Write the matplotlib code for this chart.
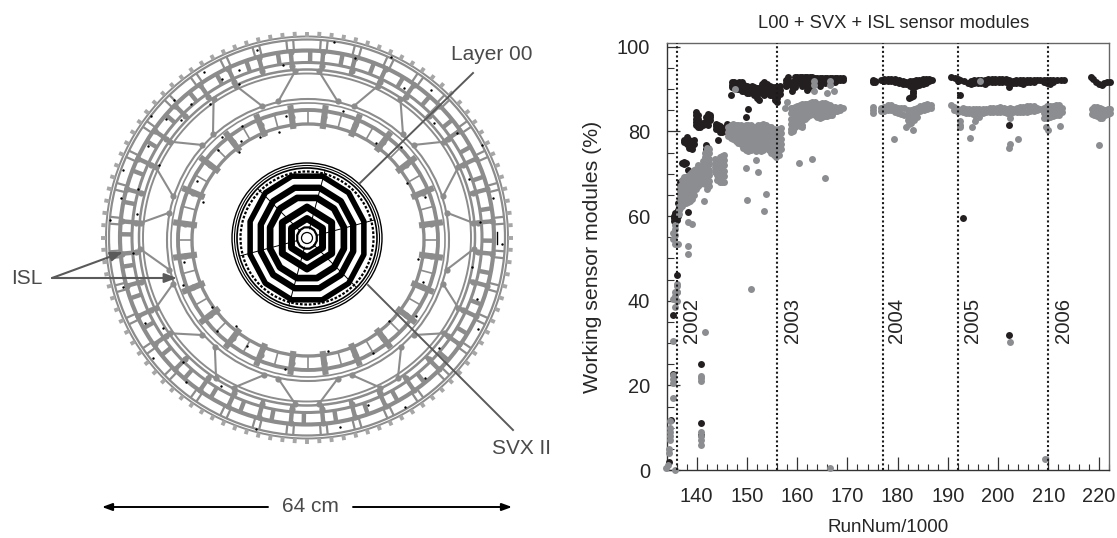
import numpy as np
import matplotlib
matplotlib.use("Agg")
import matplotlib.pyplot as plt
from matplotlib.collections import LineCollection
from matplotlib.patches import Circle, Polygon
from matplotlib.ticker import MultipleLocator

plt.rcParams['font.family'] = ['Liberation Sans', 'DejaVu Sans']

# ---------------- chart values: (RunNum/1000, [working modules %]) ----------------
black_2002 = [
 (134.5,[2]),(134.9,[11.7]),(135.2,[22.8]),(135.3,[36.7]),(136,[46]),
 (135.4,[58.8,59.5,60]),(135.7,[59,60,60.8]),(136,[59,60.2,61]),(136.2,[60,61.5,63]),(136.7,[68]),(137,[72.5]),(137.4,[72.8,72.3]),(137.8,[72.6]),
 (138.3,[71,61]),(137.5,[78,77.5]),(138,[78.7,77.8,77]),(138.5,[78,77,76]),(139,[77.5,76.6,75.8]),(139.5,[78,77]),
 (139.8,[84.7,83.8,83,82.2,81.5]),(140.2,[84,83,82,81]),(140.7,[82,81.3,81]),(141.3,[82,81.5]),(141.8,[83.5,82.5,81.8]),(142.3,[84.2,83.2,82.5,81.5]),
 (142.7,[84,83.5,82.8]),(141.9,[76.7,75.9]),(142.3,[76,75.4]),(140.8,[25,11,8.2]),
 (143.8,[81.8,81.2,80.6]),(144.3,[81.5,80.8]),(144.7,[81.4,80.5,79.8]),(145.1,[80.8,79.8]),(145.5,[80.8,80.2]),(146,[81.7,81,80.4]),(144.3,[78]),
 (146.9,[88.5]),(147,[91.8,91,90.4]),(147.5,[91.7,91,90.3]),(148,[91.5,90.8,90]),(148.5,[91.6,90.8,90]),(149,[91.8,91,90.2,89.5]),
 (149.5,[91,90.2,89.5]),(150,[90.8,90,89.2]),(150.5,[90.6,89.8,89]),(151,[90.8,90,89.4]),(151.5,[90.6,89.5,88.5]),(152,[90.2,89,88]),
 (152.5,[90.2,89,87.5]),(153,[91.2,90,89]),(153.5,[91.8,90.6,89.6,88.6]),(154,[91.2,90,89]),(154.5,[90.8,89.8,88.6]),(155,[90.6,89.6,88.5]),
 (155.5,[90.6,89.4,88.2,87.5]),(156,[90.2,89,88,87]),(156.5,[90.7,89.8,88.9]),(149.9,[83.5]),(150.3,[85.3]),
]
black_2003 = [
 (157.7,[92.2,91.5,90.8]),(158.2,[92.8,92,91.3]),(158.9,[91.8,90.8]),(159,[89.5]),(159.5,[92.8,92,91.2,90.5]),(160,[92.9,92.2,91.4]),(160.5,[92.9,92.2,91.6]),
 (161,[92.9,92.1,91.4,90.7]),(161.5,[92.9,92.1,91.2]),(162,[92.9,92.1,91.2,90.4,89.8]),(162.5,[92.9,92.1,91.3,90.5]),(163,[92.8,92,91.4]),(163.5,[92.7,92,91.4]),
 (164,[92.7,92,91.5]),(164.5,[92.7,91.9,90.8]),(165,[92.6,92,91.6]),(165.5,[92.6,92,91.5]),(166,[92.6,92,91.6]),(166.5,[92.6,92,91.3]),
 (167,[92.6,92,91.8]),(167.5,[92.6,92,91.8]),(168,[92.6,92.1]),(168.5,[92.6,92.1]),(169.2,[92.6,92.2]),
]
black_2004 = [
 (175.1,[92.1,91.7]),(175.4,[92,91.8]),(176.7,[92.1]),(177.2,[92.3,91.9]),(178,[92.4,91.9]),(178.7,[92.4,91.9]),(179.5,[92.3,91.7]),
 (180.2,[92.2,91.4]),(181,[92,91.3]),(181.7,[91.8,91.1]),(182.4,[92,91.4,90.8]),(183,[92,91.3,90.6,89.6,89]),(183.6,[92.1,91.4,90.8]),
 (184.3,[92.2,91.6,91]),(185,[92.3,91.8,91.3]),(185.6,[92.4,92,91.5]),(186.3,[92.4,91.9]),(186.9,[92.1]),(182.2,[88]),(183,[88.4]),(182.6,[88.2]),
]
black_2005 = [
 (190.7,[92.8]),(191.4,[92.7]),(192,[92.5,91.9]),(192.5,[92.1,88.6]),(193,[59.5]),(193.2,[91.9]),(193.9,[91.5]),(194.5,[91.9,91.2]),
 (195.2,[92.1,91.4]),(195.9,[92.2,91.5]),(196.6,[92.2,91.5]),(197.3,[92.2,91.2]),(198,[92.3,91.6]),(198.7,[92.3,91.6]),
 (199.4,[92.3,91.7]),(200.1,[92.3,91.7]),(200.8,[92.3,91.6]),(201.5,[92.3,91.6]),(202.2,[92.2,91.5,90.6,81.6,32]),
 (202.9,[92,91.4]),(203.6,[92.2,91.5]),(204.3,[92.2,91.4]),(205,[92.2,91.2]),(205.7,[92.2,91.6]),(206.4,[92.2,91.7]),
 (207.1,[92.2,91.8]),(207.8,[92.2]),(208.3,[92.2]),
]
black_2006 = [
 (209.2,[92.1,91.8]),(209.8,[92.2,91.5]),(210.3,[92.2,91.2]),(211,[92.2,91.8]),(211.7,[92.1]),(212.4,[92.1]),(213,[92.1]),
 (218.4,[92.8]),(218.9,[92.4]),(219.5,[91.7]),(220.1,[91.3]),(220.6,[91]),(221.1,[91.4]),(221.7,[91.8]),(222.3,[91.8]),
]
gray_2002 = [
 (134,[0.5]),(134.3,[1.2]),(134.5,[4,5]),(134.7,[7,8,9,10,11.5]),(135.2,[20.5,21.5,22.5,30.5]),(135.3,[17]),(135.6,[0.1]),
 (135.7,[38.5,41,42]),(136,[40,42,43.5,44]),(136.1,[42]),(135.3,[40.5,54.5,56]),(135.7,[55.5,53.5,57,58]),(136.3,[53.5]),
 (138.2,[51,52.9]),(138.3,[58.5]),(139.1,[58.1]),(140.8,[6,7,8,9,21,21.8,22.3]),(141.6,[32.6]),(141.5,[63.6]),(150.8,[42.7]),
 (136.4,[60.5,61.5,62.5]),(136.7,[62,63,64,65,66,67]),(137.1,[62.5,63.7,65,66.2,67.5,68.5]),(137.5,[63,64.2,65.5,66.8,68,69.2]),(137.9,[63,64.2,65.5,66.8,68,69.2]),
 (138.3,[63.3,64.5,65.8,67,68.3,69.5]),(138.7,[63.5,64.8,66,67.3,68.5,70]),(139.1,[64,65.3,66.6,67.9,69.2,70.3]),(139.5,[65,66.3,67.6,68.9,70.2,71]),
 (139.9,[66.5,67.8,69,70.2,71.2]),(140.3,[67,68.2,69.5,71,72]),(140.7,[67.5,68.8,70,71.2]),
 (141.2,[68,69.2,70.5,72,73]),(141.6,[67.5,68.8,70,71.3,72.6,73.9,75]),(142,[66.5,67.8,69,70.3,71.6,72.9,74.2,75.5,76.2]),(142.5,[67,68.3,69.6,70.9,72.2,73.5,74.8,75.8]),
 (143.7,[70.3,71.5,72.6,73.4]),(144.1,[68.5,69.8,71,72.2,73.3]),(144.6,[68,69.2,70.5,71.8,73,74]),(145,[68,69.3,70.6,72,73.2,74.3]),(145.5,[68,69.4,70.7,72,73.3,74.4]),
 (146.3,[81,79.8,79]),(146.8,[81.5,80.3,79.2,78.5]),(147.3,[81.8,80.6,79.4,78.2]),(147.7,[90]),(147.8,[81.5,80.3,79.1,77.8]),(148.3,[81.5,80.3,79,77.2]),
 (148.8,[81.5,80.3,79,77.8,77]),(149.3,[81.3,80.1,78.8,77.6,76.2]),(149.8,[81.5,80.2,79,77.7,76.5,75.5]),(150.3,[81.5,80.2,79,77.7,76.5,75.3]),
 (150.8,[81.5,80.2,79,77.7,76.5,75.5]),(151.3,[81,79.8,78.6,77.3,76.2]),(151.8,[81,79.8,78.6,77.3,76.2,75.3]),(152.3,[81.5,80.2,79,77.7,76.5,75.5]),(152.8,[81.5,80.2,79,77.7,76.5,75.3]),
 (153.3,[81.7,80.5,79.2,78,76.7,75.5]),(153.8,[81.5,80.3,79,77.8,76.8,76]),(154.3,[81,79.8,78.6,77.4,76.4,75.5]),(154.8,[81,79.8,78.5,77.2,76,75]),(155.3,[80.5,79.3,78,76.8,75.5,74.5]),
 (155.8,[80,78.8,77.5,76.2,75,74]),(156.3,[80.5,79.2,78,76.7,75.5,74.5]),(156.8,[80.8,79.6,78.3,77,75.8]),
 (149.9,[71.3]),(151.8,[73.3]),(152.3,[70.4]),(150.1,[63.8]),(153.7,[65.3]),(153.4,[61.3]),
]
gray_2003 = [
 (157.5,[85.5]),(157.9,[87]),(158.7,[85.5,84.3,83,81.8,80.6,79.8]),(159.1,[85.5,84.3,83,81.8,80.6,80]),(159.5,[85.8,84.6,83.4,82.2,81]),(160,[86,84.8,83.6,82.5]),
 (160.5,[86.3,85,83.8,82.6,81.4]),(161,[86.5,85.2,84,82.8,81.5,81]),(161.5,[86.6,85.4,84.2,83]),(162,[86.6,85.4,84.2,83.5]),(162.5,[86.8,85.6,84.4,84]),
 (163,[87,85.8,84.6,84.2]),(163.5,[87,85.8,84.6,84]),(164,[86.6,85.4,84.2,83.3]),(164.5,[86.4,85.2,84,83.2]),(165,[86.7,85.5,84.3,83.5]),(165.5,[86.8,85.6,84.4,83.6]),
 (166,[86.5,85.3,84.2,83.6]),(166.5,[86.2,85,83.8]),(167,[85.8,84.6,84]),(167.5,[85.8,84.8]),(168,[85.6,84.8]),(168.6,[85.7,85]),(169.2,[85.6]),
 (160.4,[72.6]),(163,[73.4]),(165.5,[69]),(163.3,[92]),(163.4,[89.6,91]),(166.5,[91.9,91]),(166,[89.2]),(167.3,[89.6]),(166.5,[0.5]),
]
gray_2004 = [
 (175.1,[85.8,85,84.3]),(176.7,[85.5,84.8]),(177.3,[85.8,84.8]),(178,[86.2,85]),(178.7,[86.2,85]),(179.4,[85.8,84.5]),(180,[85.5,84.3]),
 (180.7,[85.5,84.2]),(181.3,[85.5,84]),(182,[85,83.8,82.6]),(182.6,[85,83.5,82]),(183.2,[85.3,84,82.8]),(183.9,[85.6,84.5,83.5]),
 (184.5,[85.9,84.8]),(185.2,[86.2,85]),(185.9,[86.4,85.3]),(186.6,[86.3,85.5]),(181.6,[81]),(183,[80.4]),(182.2,[81.8]),(179.3,[78.2]),
]
gray_2005 = [
 (190.7,[86.3]),(191.3,[85.8,85]),(192,[85.3,84.5]),(192.5,[82.5,81.5,81]),(192.9,[85.5,84.5]),(193.5,[85.3,84.3]),(194.2,[85.4,84.3]),
 (194.9,[85.4,84.2]),(195.5,[85.4,84.2,83.5]),(196.2,[85.4,84.3,83.3]),(196.9,[85.3,84.4]),(197.6,[85.4,84.5]),(198.3,[85.5,84.6]),
 (199,[85.5,84.5]),(199.7,[85.6,84.6]),(200.4,[85.8,84.7]),(201.1,[85.6,84.6]),(201.8,[85.4,84.4]),(202.3,[85.5,84.2,83.2]),
 (203,[85.4,84.5]),(203.7,[85.5,84.6]),(204.4,[85.8,84.6]),(205,[85.8,84.6]),(205.7,[85.9,84.5]),(206.4,[86,84.9]),(207.1,[85.9,84.9]),
 (207.8,[85.6,85]),(208.3,[85.2]),(194.7,[81]),(195.3,[82.4]),(194.3,[78.5]),(196.3,[92]),(204,[78.2]),(202.4,[77]),(202.1,[76.2]),(202.3,[30.3]),
]
gray_2006 = [
 (209.1,[85.6,84.4,83.2]),(209.7,[85.9,84.6,83.2]),(210.3,[86,84.6,83.3]),(210.9,[86,84.8,83.7]),(211.5,[86.2,85,83.8]),(212.1,[86.2,85,84]),
 (212.6,[85.5,84.6]),(209.6,[81]),(210,[80.4]),(212.3,[81.2]),(209.4,[2.7]),
 (218.6,[85.3,84.2]),(219.1,[85.8,84.8,83.8]),(219.7,[85.8,84.6,83.6]),(220.2,[85.6,84.4,83.2]),(220.7,[85.3,84.2,83.2]),(221.2,[85,84]),
 (221.8,[85.2,84.2]),(222.3,[85.2,84.4]),(220,[76.8]),
]
year_lines = [136, 156, 177, 192, 210]
year_labels = ['2002', '2003', '2004', '2005', '2006']
year_label_x = [139.0, 159.1, 179.8, 194.8, 213.0]
x_ticks = [140, 150, 160, 170, 180, 190, 200, 210, 220]
y_ticks = [0, 20, 40, 60, 80, 100]

# ---------------- schematic dimensions (pixels in the figure) ----------------
outer_center = (307.0, 237.5)
inner_center = (308.0, 240.0)
outer_rings = [(201, 1.4), (198, 1.6), (187, 3.0), (175, 2.2), (168, 1.8), (164, 1.4)]
inner_rings = [(141, 1.5), (137, 1.2), (130, 2.8), (116, 2.4)]
n_teeth = 104
n_outer_modules = 36
n_inner_modules = 24
svx_center = (307.0, 238.0)
svx_circles = [(75, 1.0), (72.5, 0.8), (70, 1.2)]
svx_squash = 0.92
svx_polys = [(12, 15, 64, 4.0), (12, 15, 52, 4.6), (12, 15, 41.5, 4.8), (6, 0, 31, 5.0), (6, 0, 19.5, 5.0), (12, 15, 11, 1.6)]
spoke_inner = [12, 19, 42, 48, 72, 79, 102, 108, 132, 139, 162, 168]
spoke_outer = [4, 25, 34, 55, 65, 85, 94, 115, 125, 147, 154, 176]
speck_angle = [-52,-50,-47,-44,-41,-36,-32,-28,-24,-70,-74,-78,-82,-60,-64,-85,-95,-105,-118,-122,-128,-135,-140,-150,
               -165,170,160,150,140,130,118,110,100,92,85,78,70,62,55,48,40,33,25,15,8,-8,-15,-22]
speck_radius = [198,184,172,191,177,165,195,180,168,196,176,190,172,184,165,198,175,191,183,170,196,176,188,172,
                198,192,178,196,184,172,194,181,168,195,174,190,172,198,183,171,193,178,199,186,197,174,194,181]
speck2_angle = [-45,-40,-38,-34,-30,-25,-62,-70,-100,-110,-125,-135,-140,-150,-170,170,150,135,125,110,100,70,60,45,35,15,-10,-15]
speck2_radius = [127,134,112,120,132,114,126,112,126,133,117,128,112,122,131,113,130,115,132,122,112,125,114,131,118,134,126,112]


def pol(center, angle_deg, r):
    a = np.radians(angle_deg)
    return center[0] + r * np.sin(a), center[1] - r * np.cos(a)


def radial(center, angle_deg, r0, r1):
    return [pol(center, angle_deg, r0), pol(center, angle_deg, r1)]


def expand(cols):
    xs, ys = [], []
    for run, vals in cols:
        for v in vals:
            xs.append(run)
            ys.append(v)
    return xs, ys


W, H = 1117, 538
fig = plt.figure(figsize=(W / 100, H / 100), dpi=100, facecolor='white')
GRAY = '#8c8c8c'
DARK = '#4a4a4a'
TXT = '#262626'

# ---- schematic, left -----
s = fig.add_axes([0, 0, 1, 1])
s.set_xlim(0, W)
s.set_ylim(H, 0)
s.axis('off')

for r, lw in outer_rings:
    s.add_patch(Circle(outer_center, r, fill=False, ec=GRAY, lw=lw))
for r, lw in inner_rings:
    s.add_patch(Circle(inner_center, r, fill=False, ec=GRAY, lw=lw))

teeth = [radial(outer_center, i * 360 / n_teeth, 201, 206) for i in range(n_teeth)]
s.add_collection(LineCollection(teeth, colors='#a6a6a6', linewidths=2.8))

outer_thin, outer_thick = [], []
junction = []
for i in range(n_outer_modules):
    a = i * 360 / n_outer_modules
    outer_thin += [radial(outer_center, a - 4, 187, 198), radial(outer_center, a + 4, 187, 198)]
    outer_thick += [radial(outer_center, a - 5, 168, 189), radial(outer_center, a + 1, 175, 187)]
    junction.append(pol(outer_center, a - 5, 172))
    junction.append(pol(outer_center, a - 5, 186))
s.add_collection(LineCollection(outer_thin, colors=GRAY, linewidths=1.6))
s.add_collection(LineCollection(outer_thick, colors=GRAY, linewidths=3.2))

inner_thin, inner_thick = [], []
for i in range(n_inner_modules):
    a = i * 360 / n_inner_modules
    inner_thick.append(radial(inner_center, a - 7.5, 112, 136))
    inner_thin.append(radial(inner_center, a, 116, 130))
    junction.append(pol(inner_center, a - 7.5, 124))
    junction.append(pol(inner_center, a - 7.5, 116))
s.add_collection(LineCollection(inner_thick, colors=GRAY, linewidths=4.4))
s.add_collection(LineCollection(inner_thin, colors=GRAY, linewidths=1.2))

spokes, nodes = [], []
for sign in (-1, 1):
    for ai, ao in zip(spoke_inner, spoke_outer):
        p0 = pol(inner_center, sign * ai, 142)
        p1 = pol(outer_center, sign * ao, 167)
        spokes.append([p0, p1])
        nodes += [p0, p1]
s.add_collection(LineCollection(spokes, colors=GRAY, linewidths=1.5))
nx, ny = zip(*(nodes + junction))
s.scatter(nx, ny, s=20, color=GRAY, linewidths=0, zorder=3)

sx, sy = zip(*[pol(outer_center, a, r) for a, r in zip(speck_angle, speck_radius)])
s.scatter(sx, sy, s=3, color='black', linewidths=0, zorder=4)
sx, sy = zip(*[pol(inner_center, a, r) for a, r in zip(speck2_angle, speck2_radius)])
s.scatter(sx, sy, s=3, color='black', linewidths=0, zorder=4)
s.plot([497, 497], [232, 244], color='black', lw=1.0, zorder=4)

for r, lw in svx_circles:
    s.add_patch(Circle(svx_center, r, fill=False, ec='black', lw=lw, zorder=5))
s.add_patch(Circle(svx_center, 66.5, fill=False, ec='black', lw=1.6, ls=(0, (1.2, 0.8)), zorder=5))
for n, rot, r, lw in svx_polys:
    pts = [pol(svx_center, rot + k * 360 / n, r) for k in range(n)]
    pts = [(svx_center[0] + (x - svx_center[0]) * svx_squash, y) for x, y in pts]
    s.add_patch(Polygon(pts, closed=True, fill=False, ec='black', lw=lw, joinstyle='round', zorder=5))
hub = [radial(svx_center, a, 9, 70) for a in (15, 75, 135, 195, 255, 315)]
s.add_collection(LineCollection(hub, colors='black', linewidths=0.7, zorder=5))
s.add_patch(Circle(svx_center, 5.5, fc='white', ec='black', lw=0.9, zorder=6))

# callouts
s.plot([473, 360], [73, 183], color='#5a5a5a', lw=1.4, zorder=7)
s.plot([368, 513], [285, 430], color='#5a5a5a', lw=1.4, zorder=7)
for tip in [(123, 252), (177, 278)]:
    s.annotate('', xy=tip, xytext=(52, 278), zorder=7,
               arrowprops=dict(arrowstyle='-|>,head_length=0.75,head_width=0.28', color='#5a5a5a', lw=1.5, shrinkA=0, shrinkB=0))
s.annotate('', xy=(102, 507), xytext=(268, 507),
           arrowprops=dict(arrowstyle='-|>,head_length=0.6,head_width=0.22', color='black', lw=1.4, shrinkA=0, shrinkB=0))
s.annotate('', xy=(512, 507), xytext=(353, 507),
           arrowprops=dict(arrowstyle='-|>,head_length=0.6,head_width=0.22', color='black', lw=1.4, shrinkA=0, shrinkB=0))
s.text(451, 55, 'Layer 00', fontsize=15, color=DARK, ha='left', va='center')
s.text(492, 449, 'SVX II', fontsize=15, color=DARK, ha='left', va='center')
s.text(11, 279, 'ISL', fontsize=15, color=DARK, ha='left', va='center')
s.text(310, 507, '64 cm', fontsize=15, color=DARK, ha='center', va='center')

# ---- data chart, right ----
L, R, T, B = 667, 1109, 43, 470
ax = fig.add_axes([L / W, 1 - B / H, (R - L) / W, (B - T) / H], facecolor='none')
ax.set_xlim(134.1, 222.05)
ax.set_ylim(0, 100.9)

for cols in (black_2002, black_2003, black_2004, black_2005, black_2006):
    xs, ys = expand(cols)
    ax.scatter(xs, ys, s=25, color='#231f20', linewidths=0, clip_on=False, zorder=3)
for cols in (gray_2002, gray_2003, gray_2004, gray_2005, gray_2006):
    xs, ys = expand(cols)
    ax.scatter(xs, ys, s=25, color='#8b8d90', linewidths=0, clip_on=False, zorder=4)

for xv, lab, lx in zip(year_lines, year_labels, year_label_x):
    ax.axvline(xv, color='#1a1a1a', lw=1.5, ls=(0, (1, 1.2)), zorder=5)
    ax.text(lx, 30.0, lab, rotation=90, ha='center', va='bottom', fontsize=14.6, color=TXT)

ax.set_xticks(x_ticks)
ax.set_yticks(y_ticks)
ax.xaxis.set_minor_locator(MultipleLocator(2))
ax.yaxis.set_minor_locator(MultipleLocator(5))
ax.tick_params(axis='x', which='major', direction='in', length=9.4, width=0.9, pad=12, labelsize=14.4, labelcolor=TXT, color='#333333')
ax.tick_params(axis='x', which='minor', direction='in', length=4.3, width=0.8, color='#333333')
ax.tick_params(axis='y', which='major', direction='in', length=9.4, width=0.9, pad=12, labelsize=14.4, labelcolor=TXT, color='#333333')
ax.tick_params(axis='y', which='minor', direction='in', length=5.0, width=0.8, color='#333333')
for side in ('left', 'bottom'):
    ax.spines[side].set_color('#333333')
    ax.spines[side].set_linewidth(1.0)
for side in ('top', 'right'):
    ax.spines[side].set_color('#666666')
    ax.spines[side].set_linewidth(1.0)

fig.text(894 / W, 1 - 23 / H, 'L00 + SVX + ISL sensor modules', fontsize=13.2, color=TXT, ha='center', va='center')
fig.text(888 / W, 1 - 527 / H, 'RunNum/1000', fontsize=13.6, color=TXT, ha='center', va='center')
fig.text(592 / W, 1 - 256.5 / H, 'Working sensor modules (%)', fontsize=15.3, color=TXT, rotation=90, ha='center', va='center')

fig.savefig('out.png', dpi=100, facecolor='white')
